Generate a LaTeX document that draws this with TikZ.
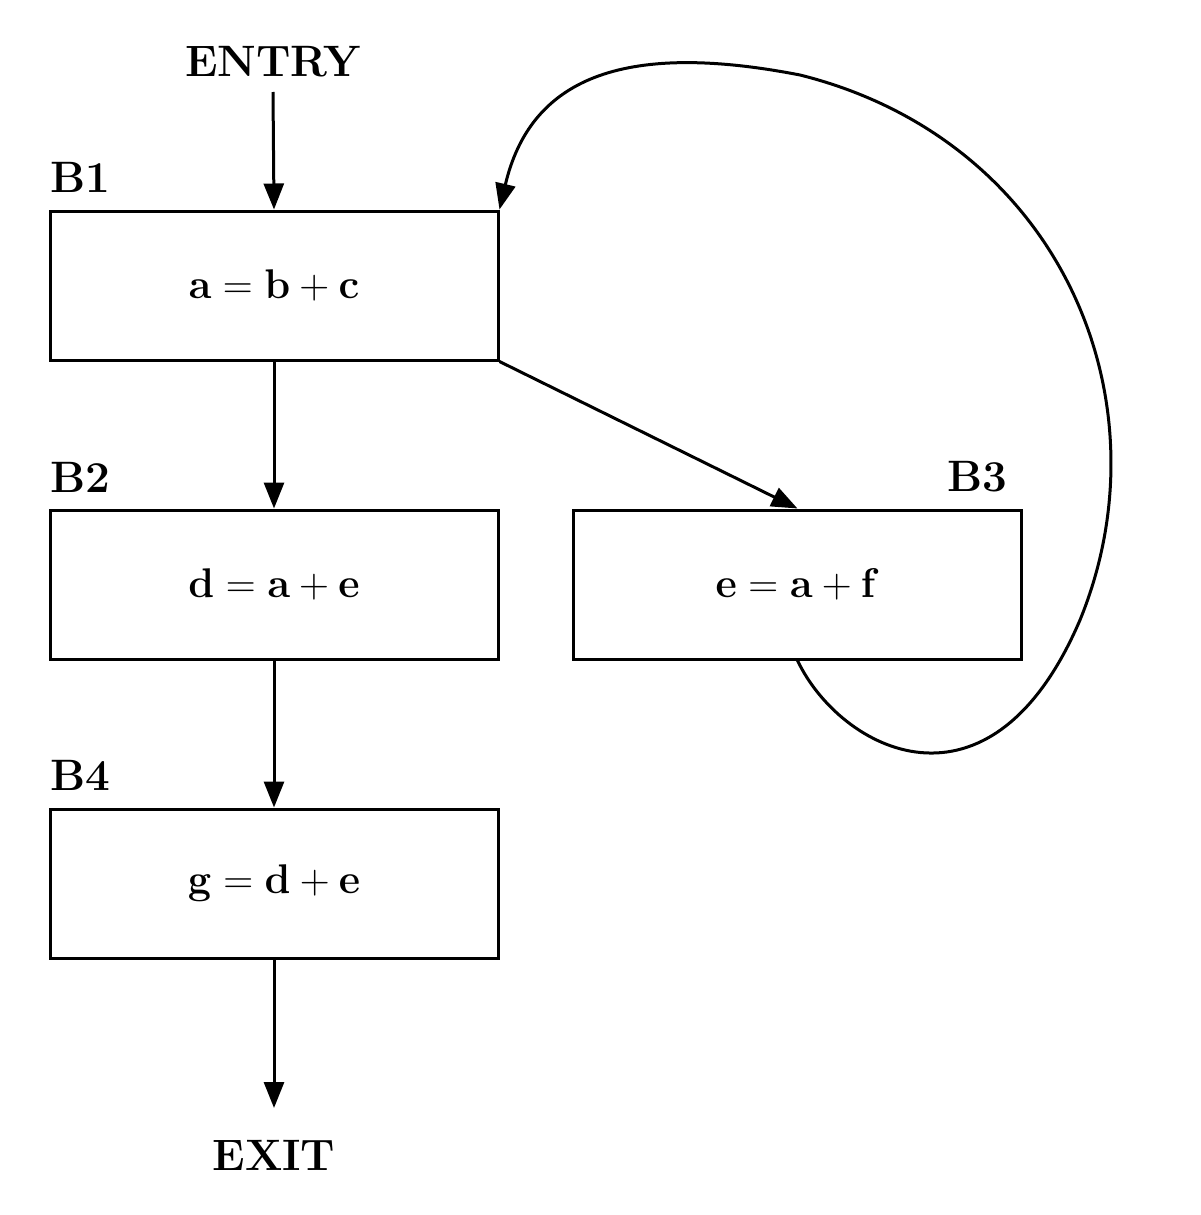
\documentclass[tikz,border=0pt]{standalone}
\usetikzlibrary{arrows.meta}
\begin{document}
\begin{tikzpicture}[x=0.5pt,y=-0.5pt,line width=1.5pt,
  box/.style={draw,minimum width=224pt,minimum height=74.5pt,inner sep=0pt,font=\fontsize{22}{26}\selectfont},
  lbl/.style={font=\fontsize{22}{26}\selectfont\bfseries,inner sep=0pt},
  arr/.style={-{Triangle[length=13pt,width=10pt]}}]
\useasboundingbox (0,0) rectangle (1200,1215);
\node[lbl] (entry) at (273,62) {ENTRY};
\node[lbl] (exit) at (274,1155) {EXIT};
\node[box] (b1) at (274,285.5) {$\mathbf{a=b+c}$};
\node[box] (b2) at (274,584.5) {$\mathbf{d=a+e}$};
\node[box] (b3) at (797.5,584.5) {$\mathbf{e=a+f}$};
\node[box] (b4) at (274,883.5) {$\mathbf{g=d+e}$};
\node[lbl] at (80,177) {B1};
\node[lbl] at (80,477) {B2};
\node[lbl] at (977,477) {B3};
\node[lbl] at (80,775) {B4};
\coordinate (es) at (273,92);
\coordinate (xs) at (274,1108);
\draw[arr] (es) -- (b1.north);
\draw[arr] (b1.south) -- (b2.north);
\draw[arr] (b2.south) -- (b4.north);
\draw[arr] (b4.south) -- (xs);
\draw[arr] (b1.south east) -- (b3.north);
\draw[arr] (b3.south) .. controls (840,750) and (990,830) .. (1080,620)
  .. controls (1170,400) and (1060,140) .. (800,75)
  .. controls (620,40) and (530,80) .. (b1.north east);
\end{tikzpicture}
\end{document}
